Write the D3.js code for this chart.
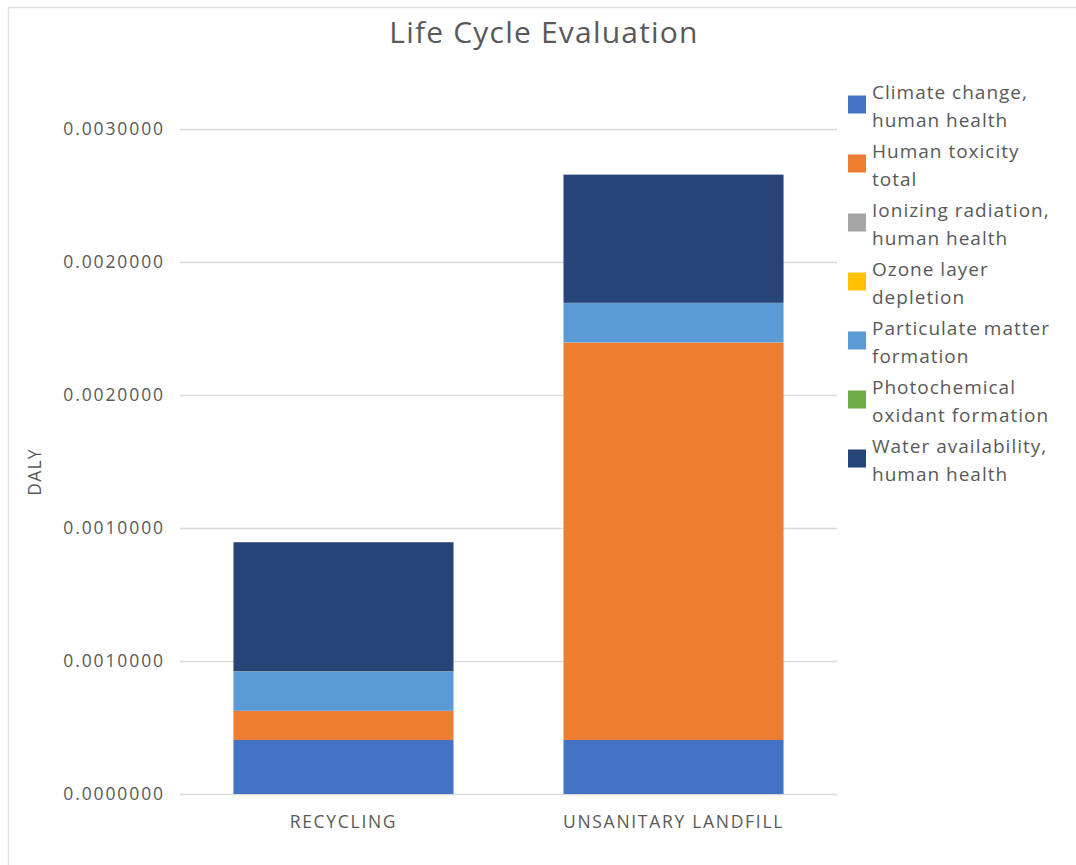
<!DOCTYPE html>
<html lang="en">
<head>
    <meta charset="UTF-8">
    <title>Life Cycle Evaluation</title>
    <script src="https://d3js.org/d3.v7.min.js"></script>
    <style>
        body { margin: 0; background: #fff; }
        text { font-family: 'Open Sans', 'Noto Sans', sans-serif; fill: #595959; }
    </style>
</head>
<body>
<script>
    const width  = 1076;
    const height = 865;

    const categories = ["RECYCLING", "UNSANITARY LANDFILL"];
    const seriesNames = [
        "Climate change, human health",
        "Human toxicity total",
        "Ionizing radiation, human health",
        "Ozone layer depletion",
        "Particulate matter formation",
        "Photochemical oxidant formation",
        "Water availability, human health"
    ];
    const legendLines = [
        ["Climate change,", "human health"],
        ["Human toxicity", "total"],
        ["Ionizing radiation,", "human health"],
        ["Ozone layer", "depletion"],
        ["Particulate matter", "formation"],
        ["Photochemical", "oxidant formation"],
        ["Water availability,", "human health"]
    ];
    const colors = ["#4472c4", "#ed7d31", "#a5a5a5", "#ffc000", "#5b9bd5", "#70ad47", "#264478"];

    // values per series: [recycling, landfill]
    const climateChange = [0.000203, 0.000203];
    const humanToxicity = [0.000109, 0.001494];
    const ionizing      = [0.0000005, 0.0000005];
    const ozone         = [0.0000002, 0.0000002];
    const particulate   = [0.000148, 0.000148];
    const photochemical = [0.0000008, 0.0000008];
    const water         = [0.000485, 0.000482];

    const tickValues = [0, 0.0005, 0.001, 0.0015, 0.002, 0.0025];
    const tickLabels = ["0.0000000", "0.0010000", "0.0010000", "0.0020000", "0.0020000", "0.0030000"];

    const seriesValues = [climateChange, humanToxicity, ionizing, ozone, particulate, photochemical, water];

    const table = categories.map((c, i) => {
        const row = {category: c};
        seriesNames.forEach((s, j) => row[s] = seriesValues[j][i]);
        return row;
    });

    const stack = d3.stack().keys(seriesNames);
    const layers = stack(table);

    const plot = {left: 180, right: 837, top: 129, bottom: 794};

    const x = d3.scaleBand()
        .domain(categories)
        .range([plot.left, plot.right])
        .paddingInner(1 / 3)
        .paddingOuter(0.162);

    const y = d3.scaleLinear()
        .domain([0, 0.0025])
        .range([plot.bottom, plot.top]);

    const svg = d3.select("body").append("svg").attr("width", width).attr("height", height);

    // chart area border (left and top visible)
    svg.append("line").attr("x1", 8.5).attr("x2", 8.5).attr("y1", 7).attr("y2", height)
        .attr("stroke", "#e3e3e3").attr("stroke-width", 1.5);
    svg.append("line").attr("x1", 8).attr("x2", width).attr("y1", 7.5).attr("y2", 7.5)
        .attr("stroke", "#e3e3e3").attr("stroke-width", 1.5);

    svg.append("text")
        .text("Life Cycle Evaluation")
        .attr("x", 544).attr("y", 43)
        .attr("text-anchor", "middle")
        .style("font-size", "30px")
        .style("letter-spacing", "1.2px");

    // grid + y axis
    const yAxis = d3.axisLeft(y)
        .tickValues(tickValues)
        .tickSize(-(plot.right - plot.left))
        .tickPadding(15)
        .tickFormat((d, i) => tickLabels[i]);

    const gy = svg.append("g")
        .attr("transform", "translate(" + plot.left + ",0)")
        .call(yAxis);
    gy.select(".domain").remove();
    gy.selectAll(".tick line").attr("stroke", "#d9d9d9").attr("stroke-width", 1.3);
    gy.selectAll(".tick text")
        .style("font-size", "17.5px")
        .style("letter-spacing", "1.9px")
        .attr("fill", "#595959");

    svg.append("text")
        .text("DALY")
        .attr("transform", "translate(41,472) rotate(-90)")
        .attr("text-anchor", "middle")
        .style("font-size", "17.5px")
        .style("letter-spacing", "1.2px");

    // bars
    svg.selectAll(".layer")
        .data(layers)
        .enter().append("g")
        .attr("class", "layer")
        .attr("fill", (d, i) => colors[i])
        .selectAll("rect")
        .data(d => d)
        .enter().append("rect")
        .attr("x", d => x(d.data.category))
        .attr("width", x.bandwidth())
        .attr("y", d => y(d[1]))
        .attr("height", d => y(d[0]) - y(d[1]));

    // x labels
    const xAxis = d3.axisBottom(x).tickSize(0).tickPadding(22);
    const gx = svg.append("g")
        .attr("transform", "translate(0," + plot.bottom + ")")
        .call(xAxis);
    gx.select(".domain").remove();
    gx.selectAll(".tick text")
        .style("font-size", "17.5px")
        .style("letter-spacing", "1.7px")
        .attr("fill", "#595959");

    // legend
    const legend = svg.append("g").attr("transform", "translate(848,0)");
    const item = legend.selectAll(".item")
        .data(legendLines)
        .enter().append("g")
        .attr("class", "item")
        .attr("transform", (d, i) => "translate(0," + (104 + i * 59) + ")");

    item.append("rect")
        .attr("x", 0).attr("y", -8.5)
        .attr("width", 18).attr("height", 18)
        .attr("fill", (d, i) => colors[i]);

    item.selectAll("text")
        .data(d => d)
        .enter().append("text")
        .text(d => d)
        .attr("x", 24)
        .attr("y", (d, i) => -5 + i * 28)
        .style("font-size", "19px")
        .style("letter-spacing", "1px");
</script>
</body>
</html>
